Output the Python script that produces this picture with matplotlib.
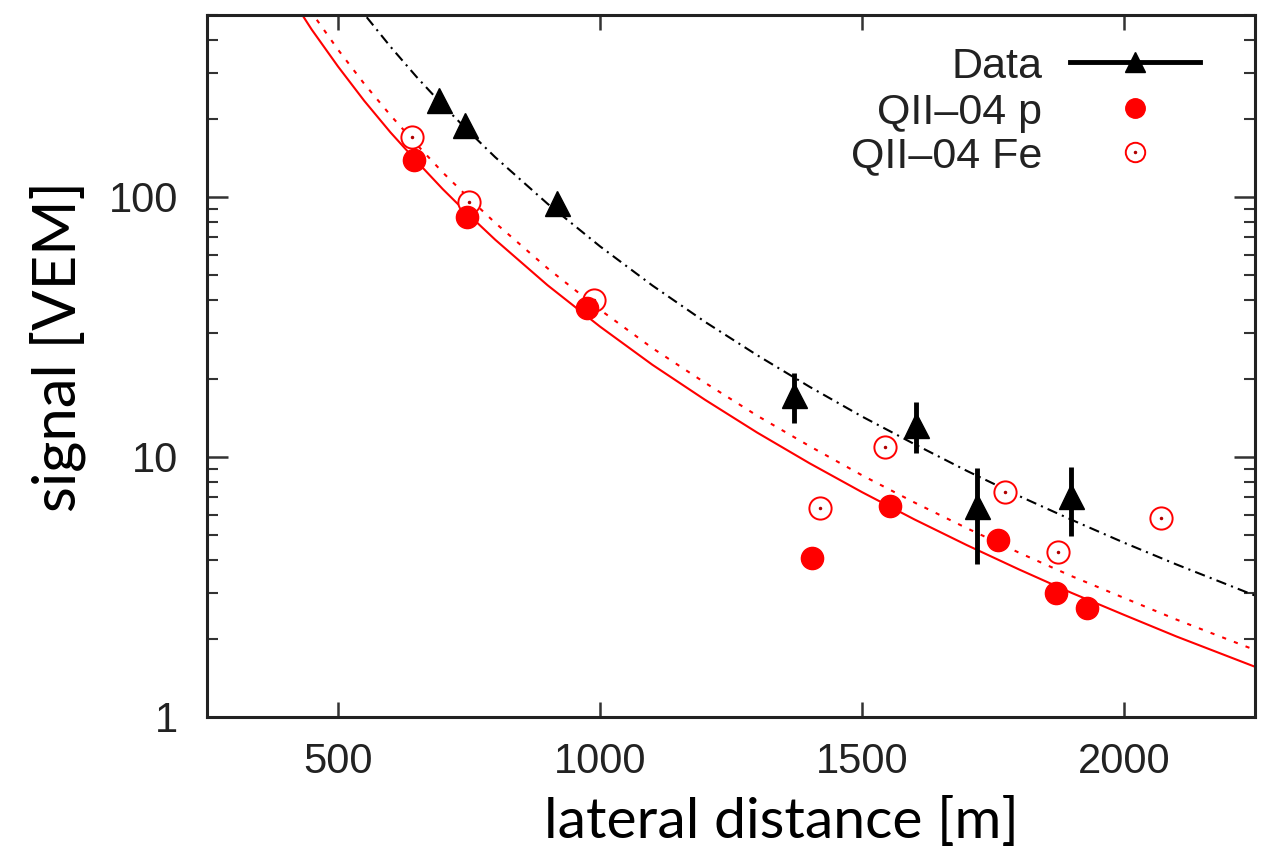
import matplotlib
matplotlib.use("Agg")
import matplotlib.pyplot as plt
from matplotlib.ticker import LogLocator, FixedLocator, NullFormatter

# measured data (black triangles)
data_r = [693, 742, 918, 1370, 1604, 1720, 1899]
data_s = [236, 189, 94.8, 17.3, 13.3, 6.46, 7.05]
data_err = [6, 5, 3, 3.8, 2.95, 2.6, 2.1]

# QII-04 proton (filled red)
p_r = [645, 746, 975, 1405, 1553, 1760, 1870, 1929]
p_s = [139, 83.8, 37.4, 4.09, 6.46, 4.8, 3.0, 2.63]

# QII-04 iron (open red)
fe_r = [641, 750, 989, 1420, 1544, 1773, 1874, 2071]
fe_s = [170, 95.7, 40.1, 6.37, 10.9, 7.33, 4.31, 5.82]

# fitted LDF curves
fit_r = [400, 450, 500, 550, 600, 650, 700, 750, 800, 900, 1000, 1100, 1200, 1300, 1400,
         1500, 1600, 1700, 1800, 1900, 2000, 2100, 2250]
fit_data = [1387, 960, 686, 504, 378, 289, 225, 178, 142, 94, 64.5, 45.6, 33.1, 24.6, 18.6,
            14.3, 11.2, 8.84, 7.07, 5.73, 4.68, 3.86, 2.93]
fit_p = [629, 439, 317, 234, 177, 137, 107, 85.1, 68.4, 45.7, 31.7, 22.6, 16.6, 12.4, 9.45,
         7.32, 5.75, 4.58, 3.69, 3.00, 2.47, 2.04, 1.56]
fit_fe = [730, 510, 368, 272, 206, 159, 124, 98.8, 79.4, 53.1, 36.8, 26.2, 19.3, 14.4, 11.0,
          8.50, 6.68, 5.32, 4.28, 3.48, 2.87, 2.37, 1.81]

legend_labels = ["Data", "QII–04 p", "QII–04 Fe"]

tick_font = "Liberation Sans"
label_font = "Lato"

fig = plt.figure(figsize=(12.68, 8.52), dpi=100)
ax = fig.add_axes([207 / 1268, 1 - 717 / 852, 1048 / 1268, 702 / 852])

ax.plot(fit_r, fit_data, color="black", lw=1.5, ls=(0, (5, 2.5, 1, 2.5)))
ax.plot(fit_r, fit_p, color="red", lw=1.5, ls="-")
ax.plot(fit_r, fit_fe, color="red", lw=1.5, ls=(0, (2, 4)))

ax.plot(fe_r, fe_s, ls="none", marker="o", ms=16, mfc="white", mec="red", mew=1.4)
ax.plot(fe_r, fe_s, ls="none", marker="o", ms=1.5, color="#b00000")
ax.plot(p_r, p_s, ls="none", marker="o", ms=16, color="red", mec="red")
ax.errorbar(data_r, data_s, yerr=data_err, fmt="^", color="black", ms=18,
            elinewidth=3.5, capsize=0)

ax.set_yscale("log")
ax.set_xlim(250, 2250)
ax.set_ylim(1, 500)

ax.xaxis.set_major_locator(FixedLocator([500, 1000, 1500, 2000]))
ax.yaxis.set_minor_locator(LogLocator(base=10, subs=range(2, 10), numticks=10))
ax.yaxis.set_minor_formatter(NullFormatter())
ax.set_yticks([1, 10, 100])
ax.set_yticklabels(["1", "10", "100"])

for s in ax.spines.values():
    s.set_linewidth(2.2)
    s.set_color("#222222")

ax.tick_params(axis="both", which="major", direction="in", top=True, right=True,
               length=11, width=1.8, labelsize=30, color="#333333", labelcolor="#222222")
ax.tick_params(axis="x", which="major", pad=18)
ax.tick_params(axis="y", which="major", pad=21, length=15)
ax.tick_params(axis="y", which="minor", direction="in", right=True, length=8, width=1.5,
               color="#333333")
for lab in ax.get_xticklabels() + ax.get_yticklabels():
    lab.set_fontfamily(tick_font)

# key, gnuplot style: text right-aligned, sample to the right
rows_y = [0.933, 0.8675, 0.8048]
tr = ax.transAxes
ax.plot([0.8235, 0.9475], [rows_y[0]] * 2, color="black", lw=3.5, transform=tr, clip_on=False)
ax.plot([0.8855], [rows_y[0]], marker="^", ms=15, color="black", transform=tr)
ax.plot([0.8855], [rows_y[1]], marker="o", ms=14, color="red", transform=tr)
ax.plot([0.8855], [rows_y[2]], marker="o", ms=14, mfc="white", mec="red", mew=1.4, transform=tr)
ax.plot([0.8855], [rows_y[2]], marker="o", ms=1.5, color="#b00000", transform=tr)
for lab, yy in zip(legend_labels, rows_y):
    ax.text(0.7968, yy, lab, transform=tr, ha="right", va="center_baseline",
            fontsize=31, family=tick_font, color="#222222")

fig.text(781 / 1268, 1 - 822 / 852, "lateral distance [m]", ha="center", va="center",
         fontsize=41, family=label_font, color="black")
fig.text(58 / 1268, 1 - 346 / 852, "signal [VEM]", ha="center", va="center",
         rotation=90, fontsize=43, family=label_font, color="black")

fig.savefig("out.png", dpi=100)
